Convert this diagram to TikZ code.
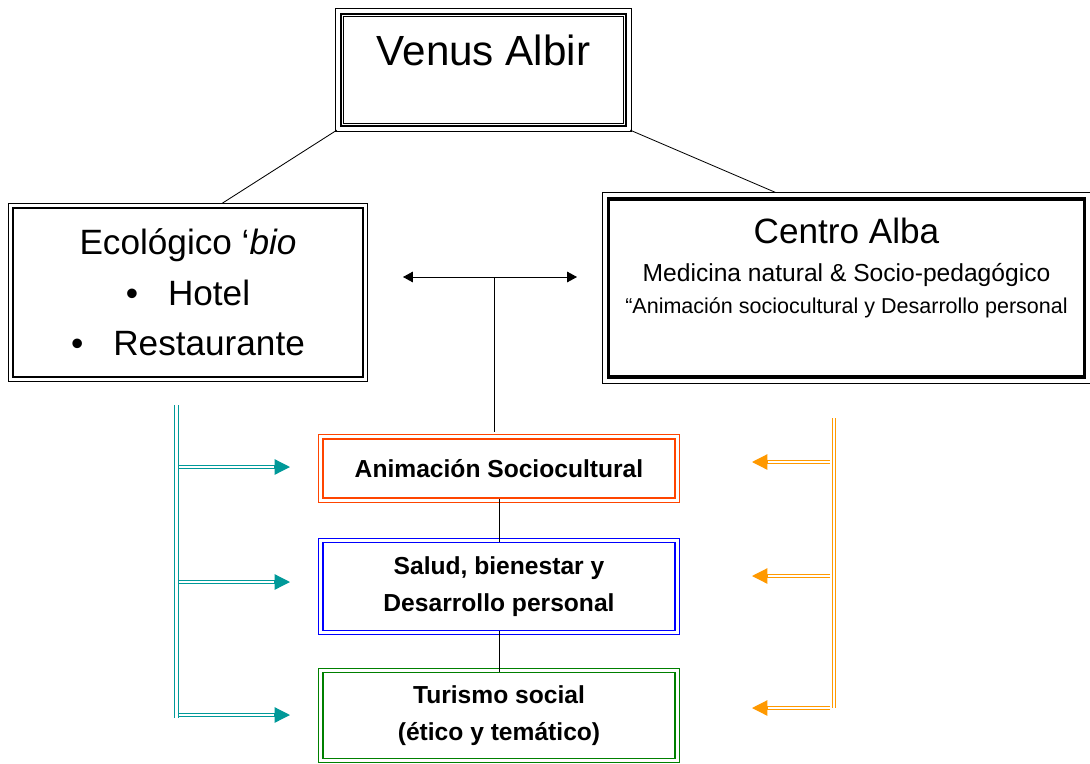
\documentclass[tikz,border=0pt]{standalone}
\usepackage{fontspec}
\setmainfont{Liberation Sans}
\usetikzlibrary{arrows.meta,positioning}
\definecolor{tealc}{RGB}{0,153,153}
\definecolor{orangec}{RGB}{255,153,0}
\definecolor{redc}{RGB}{255,69,0}
\definecolor{greenc}{RGB}{0,128,0}

\begin{document}
\begin{tikzpicture}[x=0.025cm,y=-0.025cm,
  dframe/.style={draw,line width=0.8pt,align=center},
  topic/.style={dframe,minimum width=8.8cm,font=\bfseries\fontsize{17.5}{26}\selectfont},
  link/.style={line width=0.6pt},
  rail/.style={line width=0.9pt},
  head/.style={-{Triangle[length=11pt,width=11pt]},line width=0.9pt}]
\useasboundingbox (0,0) rectangle (1090,763);
\node[draw,line width=1.6pt,minimum width=7.125cm,minimum height=2.8cm,align=center,
  font=\fontsize{30}{36}\selectfont] (ven) at (483.5,70) {Venus Albir\\[-7.6pt]~};
\draw[line width=0.6pt] ([shift={(-4,-4)}]ven.north west) rectangle ([shift={(4,4)}]ven.south east);
\draw[line width=0.6pt] ([shift={(4,4)}]ven.north west) rectangle ([shift={(-4,-4)}]ven.south east);
\node[dframe,minimum width=8.75cm,minimum height=4.225cm,font=\fontsize{25}{36}\selectfont] (eco) at (188,292.5)
  {Ecológico ‘\textit{bio}\\\textbullet\hspace{0.85em}Hotel\\\textbullet\hspace{0.85em}Restaurante};
\node[draw,line width=2.2pt,minimum width=11.9cm,minimum height=4.45cm,align=center,
  font=\fontsize{15.3}{22.7}\selectfont] (alba) at (846.5,288)
  {{\fontsize{25}{30}\selectfont Centro Alba}\\[4.6pt]{\fontsize{17.5}{21}\selectfont Medicina natural \& Socio-pedagógico}\\“Animación sociocultural y Desarrollo personal\\[9.3pt]~};
\draw[line width=0.5pt] ([shift={(-5,-5)}]alba.north west) rectangle ([shift={(5,5)}]alba.south east);
\node[topic,draw=redc,minimum height=1.475cm] (ani) at (499,468.5) {Animación Sociocultural};
\node[topic,draw=blue,minimum height=2.2cm] (sal) at (499,586.5) {Salud, bienestar y\\Desarrollo personal};
\node[topic,draw=greenc,minimum height=2.15cm] (tur) at (499,715.5) {Turismo social\\(ético y temático)};
\foreach \n/\c in {eco/black,ani/redc,sal/blue,tur/greenc}
  \draw[\c,line width=0.8pt] ([shift={(-3.5,-3.5)}]\n.north west) rectangle ([shift={(3.5,3.5)}]\n.south east);
\draw[link] ([shift={(-3,3)}]ven.south west) -- ([shift={(34,-4)}]eco.north);
\draw[link] ([shift={(3,3)}]ven.south east) -- ([shift={(-71,-5)}]alba.north);
\coordinate (mid) at (494,277);
\coordinate (al) at (403,277);
\coordinate (ar) at (577,277);
\coordinate (down) at (494,432);
\draw[link,{Triangle[length=7pt,width=7.5pt]}-{Triangle[length=7pt,width=7.5pt]}] (al) -- (ar);
\draw[link] (mid) -- (down);
\draw[link] (ani) -- (sal);
\draw[link] (sal) -- (tur);
\coordinate (ltop) at (176.5,405);
\coordinate (lbot) at (176.5,718);
\draw[rail,tealc] ([shift={(-1.8,0)}]ltop) -- ([shift={(-1.8,0)}]lbot);
\draw[rail,tealc] ([shift={(1.8,0)}]ltop) -- ([shift={(1.8,0)}]lbot);
\foreach \y [count=\i] in {467,582,715} {
  \coordinate (lt\i) at (290,\y);
  \coordinate (lb\i) at (ltop |- lt\i);
  \draw[rail,tealc] ([shift={(1.8,-1.8)}]lb\i) -- ([shift={(-14,-1.8)}]lt\i);
  \draw[rail,tealc] ([shift={(1.8,1.8)}]lb\i) -- ([shift={(-14,1.8)}]lt\i);
  \draw[head,tealc] ([shift={(-16,0)}]lt\i) -- (lt\i);
}
\coordinate (rtop) at (834,418);
\coordinate (rbot) at (834,708);
\draw[rail,orangec] ([shift={(-1.8,0)}]rtop) -- ([shift={(-1.8,0)}]rbot);
\draw[rail,orangec] ([shift={(1.8,0)}]rtop) -- ([shift={(1.8,0)}]rbot);
\foreach \y [count=\i] in {462,576,708} {
  \coordinate (rt\i) at (752,\y);
  \coordinate (rb\i) at (rtop |- rt\i);
  \draw[rail,orangec] ([shift={(-4,-1.8)}]rb\i) -- ([shift={(14,-1.8)}]rt\i);
  \draw[rail,orangec] ([shift={(-4,1.8)}]rb\i) -- ([shift={(14,1.8)}]rt\i);
  \draw[head,orangec] ([shift={(16,0)}]rt\i) -- (rt\i);
}
\end{tikzpicture}
\end{document}
